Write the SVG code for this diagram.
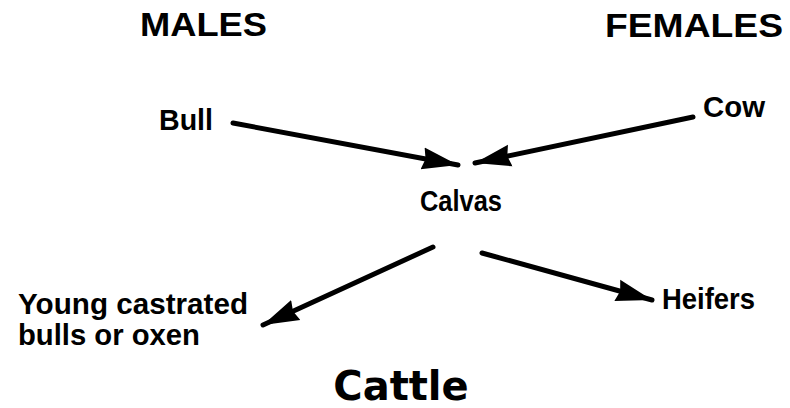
<svg xmlns="http://www.w3.org/2000/svg" width="790" height="408" viewBox="0 0 790 408">
<style>
.hd{font-family:"Liberation Sans",Arial,sans-serif;font-weight:bold;font-size:33px;fill:#000}
.lb{font-family:"Liberation Sans",Arial,sans-serif;font-weight:bold;font-size:29px;fill:#000}
.tt{font-family:"DejaVu Sans",Verdana,sans-serif;font-weight:bold;font-size:40px;fill:#000}
.ar{stroke:#000;stroke-width:5;stroke-linecap:round;fill:none}
</style>
<defs>
<marker id="ah" markerUnits="userSpaceOnUse" markerWidth="40" markerHeight="26" refX="36" refY="13" orient="auto">
<path d="M0,2 L36,13 L0,24 L3,13 Z" fill="#000"/>
</marker>
</defs>
<rect width="790" height="408" fill="#fff"/>
<g id="males"><text class="hd" x="140" y="36" textLength="127" lengthAdjust="spacingAndGlyphs">MALES</text></g>
<g id="females"><text class="hd" x="605" y="37" textLength="178" lengthAdjust="spacingAndGlyphs">FEMALES</text></g>
<g id="bull"><text class="lb" x="159" y="130" textLength="54" lengthAdjust="spacingAndGlyphs">Bull</text></g>
<g id="cow"><text class="lb" x="703" y="117" textLength="62" lengthAdjust="spacingAndGlyphs">Cow</text></g>
<g id="calvas"><text class="lb" x="420" y="211" textLength="82" lengthAdjust="spacingAndGlyphs">Calvas</text></g>
<g id="oxen">
<text class="lb" x="18" y="314" textLength="230" lengthAdjust="spacingAndGlyphs">Young castrated</text>
<text class="lb" x="18" y="345" textLength="182" lengthAdjust="spacingAndGlyphs">bulls or oxen</text>
</g>
<g id="heifers"><text class="lb" x="662" y="309" textLength="93" lengthAdjust="spacingAndGlyphs">Heifers</text></g>
<g id="connectors">
<line class="ar" x1="233" y1="123" x2="458" y2="165" marker-end="url(#ah)"/>
<line class="ar" x1="693" y1="117" x2="475" y2="163" marker-end="url(#ah)"/>
<line class="ar" x1="433" y1="247" x2="263" y2="325" marker-end="url(#ah)"/>
<line class="ar" x1="482" y1="253" x2="652" y2="300" marker-end="url(#ah)"/>
</g>
<g id="title"><text class="tt" x="401" y="400" text-anchor="middle">Cattle</text></g>
</svg>
